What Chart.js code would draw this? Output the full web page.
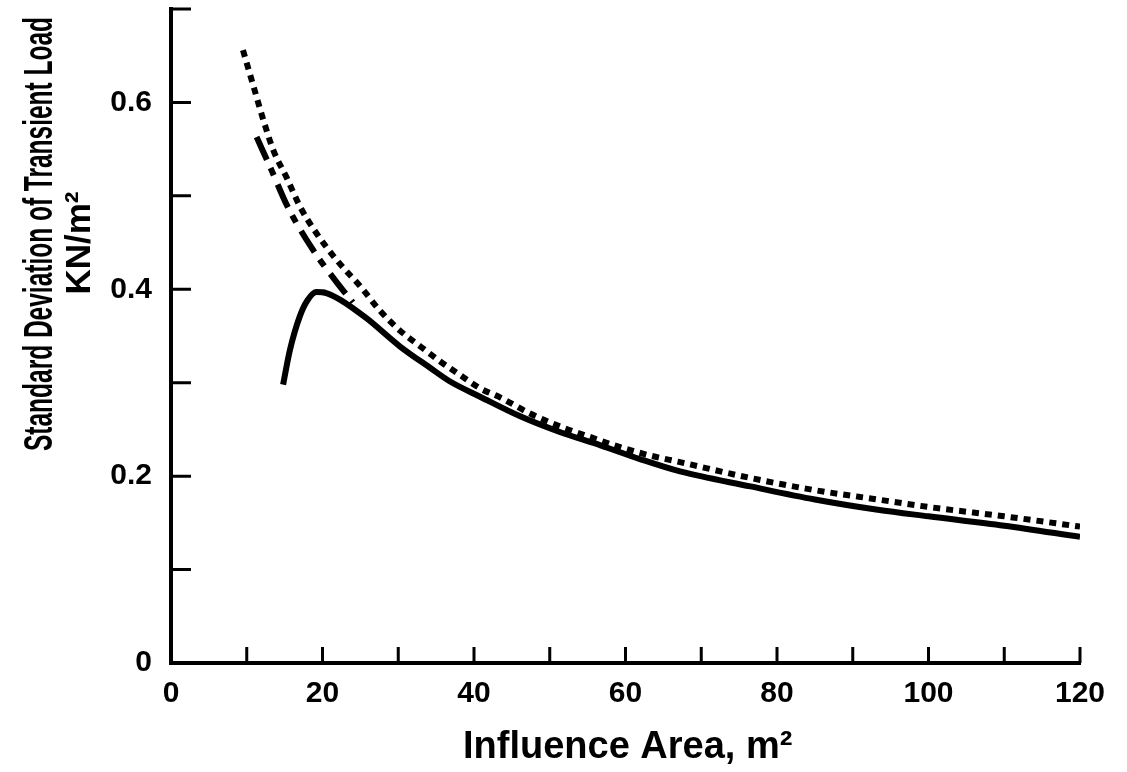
<!DOCTYPE html>
<html><head><meta charset="utf-8">
<script src="https://cdn.jsdelivr.net/npm/chart.js@4.4.0/dist/chart.umd.min.js"></script>
<style>html,body{margin:0;padding:0;background:#fff}</style>
</head><body>
<canvas id="c" width="1127" height="772"></canvas>
<script>
// ---- data ----
const areaDotted = [9.5, 10.9, 12.2, 13.5, 15.3, 17, 19.2, 21.9, 25, 27.6, 30.2, 32.9, 35.5, 38.2, 40.8, 43.5, 47.4, 51.4, 55.3, 59.3, 63.3, 67.2, 76.5, 85, 93.3, 100, 110, 120];
const sdDotted   = [0.656, 0.617, 0.581, 0.549, 0.519, 0.489, 0.46, 0.431, 0.403, 0.377, 0.356, 0.339, 0.323, 0.308, 0.294, 0.284, 0.267, 0.253, 0.242, 0.231, 0.222, 0.215, 0.198, 0.185, 0.175, 0.167, 0.157, 0.146];
const areaDashed = [11.3, 13.3, 15.3, 18.6, 22.5, 24];
const sdDashed   = [0.563, 0.527, 0.49, 0.444, 0.401, 0.386];
const areaSolid  = [14.8, 15.7, 17, 18, 19.2, 20.5, 22.3, 25.8, 30.2, 34.2, 36.9, 40.8, 46.1, 51.4, 56.7, 62, 67.2, 76.5, 85, 93.3, 100, 110, 120];
const sdSolid    = [0.298, 0.335, 0.371, 0.388, 0.397, 0.396, 0.389, 0.369, 0.339, 0.316, 0.301, 0.285, 0.264, 0.247, 0.233, 0.218, 0.205, 0.189, 0.175, 0.164, 0.157, 0.147, 0.135];

const xTickValues = [0, 10, 20, 30, 40, 50, 60, 70, 80, 90, 100, 110, 120];
const xTickLabels = ['0', '', '20', '', '40', '', '60', '', '80', '', '100', '', '120'];
const yTickValues = [0, 0.1, 0.2, 0.3, 0.4, 0.5, 0.6, 0.7];
const yTickLabels = ['0', '', '0.2', '', '0.4', '', '0.6', ''];

const yTitle1 = 'Standard Deviation of Transient Load';
const yTitle2 = 'KN/m²';
const xTitle = 'Influence Area, m²';

const pts = (xs, ys) => xs.map((x, i) => ({x: x, y: ys[i]}));

const tickMarks = {
  id: 'tickMarks',
  afterDraw(chart) {
    const ctx = chart.ctx, xs = chart.scales.x, ys = chart.scales.y, a = chart.chartArea;
    ctx.save();
    ctx.strokeStyle = '#000';
    ctx.lineWidth = 3;
    ctx.beginPath();
    yTickValues.forEach(v => {
      if (v === 0) return;
      const p = ys.getPixelForValue(v);
      ctx.moveTo(a.left, p); ctx.lineTo(a.left + 20, p);
    });
    xTickValues.forEach(v => {
      if (v === 0) return;
      const p = xs.getPixelForValue(v);
      ctx.moveTo(p, a.bottom); ctx.lineTo(p, a.bottom - 16);
    });
    ctx.stroke();
    ctx.restore();
  }
};

const FONT = '"Liberation Sans Narrow", "Liberation Sans", Arial, sans-serif';
const axisTitles = {
  id: 'axisTitles',
  afterDraw(chart) {
    const ctx = chart.ctx;
    ctx.save();
    ctx.fillStyle = '#000';
    ctx.textBaseline = 'middle';
    ctx.textAlign = 'center';
    // y title line 1
    ctx.save();
    ctx.translate(41, 234);
    ctx.rotate(-Math.PI / 2);
    ctx.font = 'bold 40px ' + FONT;
    const w1 = ctx.measureText(yTitle1).width;
    ctx.scale(434 / w1, 1);
    ctx.fillText(yTitle1, 0, 0);
    ctx.restore();
    // y title line 2
    ctx.save();
    ctx.translate(80, 243);
    ctx.rotate(-Math.PI / 2);
    ctx.font = 'bold 35px "Liberation Sans", Arial, sans-serif';
    ctx.fillText(yTitle2, 0, 0);
    ctx.restore();
    // x title
    ctx.textAlign = 'left';
    ctx.textBaseline = 'alphabetic';
    ctx.font = 'bold 38px "Liberation Sans", Arial, sans-serif';
    ctx.fillText(xTitle, 463, 758);
    ctx.restore();
  }
};

new Chart(document.getElementById('c'), {
  type: 'line',
  data: {
    datasets: [
      { label: 'dotted', data: pts(areaDotted, sdDotted), borderColor: '#000', borderWidth: 6, borderDash: [7, 6], pointRadius: 0, cubicInterpolationMode: 'monotone', fill: false },
      { label: 'dashed', data: pts(areaDashed, sdDashed), borderColor: '#000', borderWidth: 6, borderDash: [25, 9, 8, 10], pointRadius: 0, cubicInterpolationMode: 'monotone', fill: false },
      { label: 'solid', data: pts(areaSolid, sdSolid), borderColor: '#000', borderWidth: 6, pointRadius: 0, cubicInterpolationMode: 'monotone', fill: false }
    ]
  },
  options: {
    responsive: false,
    animation: false,
    devicePixelRatio: 1,
    layout: { padding: { top: 9, right: 47, left: 0, bottom: 0 } },
    plugins: { legend: { display: false }, tooltip: { enabled: false } },
    scales: {
      x: {
        type: 'linear', min: 0, max: 120,
        afterBuildTicks: s => { s.ticks = xTickValues.map(v => ({value: v})); },
        afterFit: s => { s.height = 109; s.paddingLeft = 0; s.paddingRight = 0; },
        grid: { display: false, drawTicks: false },
        border: { display: true, color: '#000', width: 4 },
        ticks: {
          color: '#000', padding: 13, maxRotation: 0, autoSkip: false,
          font: { family: '"Liberation Sans", Arial, sans-serif', size: 30, weight: 'bold' },
          callback: (v, i) => xTickLabels[i]
        }
      },
      y: {
        type: 'linear', min: 0, max: 0.7,
        afterBuildTicks: s => { s.ticks = yTickValues.map(v => ({value: v})); },
        afterFit: s => { s.width = 171; s.paddingTop = 0; s.paddingBottom = 0; },
        grid: { display: false, drawTicks: false },
        border: { display: true, color: '#000', width: 4 },
        ticks: {
          color: '#000', padding: 19, autoSkip: false,
          font: { family: '"Liberation Sans", Arial, sans-serif', size: 30, weight: 'bold' },
          callback: (v, i) => yTickLabels[i]
        }
      }
    }
  },
  plugins: [tickMarks, axisTitles]
});
</script>
</body></html>
